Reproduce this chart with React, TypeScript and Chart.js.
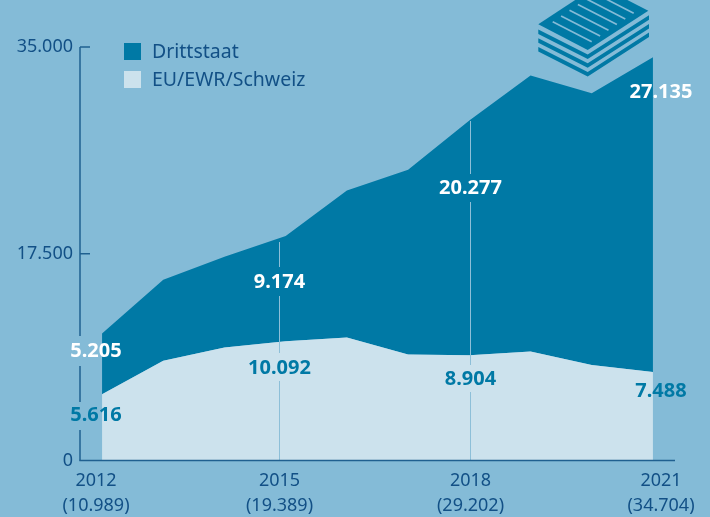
import React, { useEffect, useRef } from "react";
import { Chart, registerables } from "chart.js";

Chart.register(...registerables);

const years = [2012, 2013, 2014, 2015, 2016, 2017, 2018, 2019, 2020, 2021];
const euEwrSchweiz = [5616, 8436, 9570, 10092, 10410, 8977, 8904, 9230, 8073, 7488];
const drittstaat = [5134, 6864, 7675, 8908, 12450, 15623, 19876, 23350, 23017, 26642];
const labelYears = [2012, 2015, 2018, 2021];
const labelTotals = ["(10.989)", "(19.389)", "(29.202)", "(34.704)"];
const labelDrittstaat = ["5.205", "9.174", "20.277", "27.135"];
const labelEu = ["5.616", "10.092", "8.904", "7.488"];

const BG = "#84BBD7";
const DARK = "#0079A5";
const LIGHT = "#CCE2ED";
const AXIS = "#1F6090";
const TEXT = "#125086";
const DROP = "#8DBFD8";
const FONT = '"Noto Sans", sans-serif';

const labelX = [96, 279.5, 470.5, 661];
const labelDrittY = [351, 282, 188, 92];
const labelEuY = [415, 368, 379.5, 391];

const iconPlugin = {
  id: "decor",
  beforeDraw(chart: any) {
    const { ctx, width, height } = chart;
    ctx.save();
    ctx.fillStyle = BG;
    ctx.fillRect(0, 0, width, height);
    ctx.restore();
  },
  afterDraw(chart: any) {
    const { ctx, scales } = chart;
    const x = scales.x;
    const y = scales.y;
    const y0 = y.getPixelForValue(0);
    const yTop = y.getPixelForValue(35000);
    ctx.save();

    // vertical drop lines, broken around the value labels
    ctx.strokeStyle = DROP;
    ctx.lineWidth = 1;
    const seg = (px: number, a: number, b: number) => {
      ctx.beginPath();
      ctx.moveTo(px, a);
      ctx.lineTo(px, b);
      ctx.stroke();
    };
    seg(279.5, 242, 267);
    seg(279.5, 296, 353);
    seg(279.5, 381, y0);
    seg(470.5, 121, 174);
    seg(470.5, 202, 365);
    seg(470.5, 392, y0);

    // axes
    ctx.strokeStyle = AXIS;
    ctx.lineWidth = 1.5;
    const left = x.left;
    const axisSeg = (a: number, b: number) => {
      ctx.beginPath();
      ctx.moveTo(left, a);
      ctx.lineTo(left, b);
      ctx.stroke();
    };
    axisSeg(yTop, 336);
    axisSeg(366, 402);
    axisSeg(430, y0);
    ctx.beginPath();
    ctx.moveTo(left - 0.7, y0);
    ctx.lineTo(x.right, y0);
    ctx.stroke();
    [35000, 17500].forEach((v) => {
      const p = y.getPixelForValue(v);
      ctx.beginPath();
      ctx.moveTo(left, p);
      ctx.lineTo(left + 10, p);
      ctx.stroke();
    });

    // year labels
    ctx.textAlign = "center";
    ctx.textBaseline = "middle";
    ctx.font = `18px ${FONT}`;
    ctx.fillStyle = TEXT;
    labelYears.forEach((yr, i) => {
      ctx.fillText(String(yr), labelX[i], 481);
      ctx.fillText(labelTotals[i], labelX[i], 506);
    });

    // value labels
    ctx.font = `bold 20px ${FONT}`;
    labelDrittstaat.forEach((t, i) => {
      ctx.fillStyle = "#FFFFFF";
      ctx.fillText(t, labelX[i], labelDrittY[i]);
    });
    labelEu.forEach((t, i) => {
      ctx.fillStyle = DARK;
      ctx.fillText(t, labelX[i], labelEuY[i]);
    });

    // legend
    ctx.textAlign = "left";
    ctx.font = `19.5px ${FONT}`;
    const items = [chart.data.datasets[1], chart.data.datasets[0]];
    items.forEach((d: any, i: number) => {
      const top = 43 + i * 28;
      ctx.fillStyle = d.backgroundColor;
      ctx.fillRect(124, top, 17, 17);
      ctx.fillStyle = TEXT;
      ctx.fillText(d.label, 152, top + 9.5);
    });

    // paper stack icon
    ctx.fillStyle = DARK;
    const poly = (pts: number[][]) => {
      ctx.beginPath();
      pts.forEach((p, i) => (i ? ctx.lineTo(p[0], p[1]) : ctx.moveTo(p[0], p[1])));
      ctx.closePath();
      ctx.fill();
    };
    poly([[538.3, 24.3], [598, -15], [648.3, 10.7], [587.7, 50]]);
    [0, 8.7, 17.4].forEach((d) => {
      poly([
        [538.3, 29.5 + d],
        [587.7, 54.5 + d],
        [649, 15.2 + d],
        [649, 19.7 + d],
        [587.7, 59 + d],
        [538.3, 34 + d],
      ]);
    });
    ctx.strokeStyle = BG;
    ctx.lineWidth = 1.7;
    for (let i = 0; i < 6; i++) {
      ctx.beginPath();
      ctx.moveTo(552.7 + i * 8.4, 21.7 - i * 5.7);
      ctx.lineTo(591.7 + i * 8.4, 41.7 - i * 5.7);
      ctx.stroke();
    }
    ctx.restore();
  },
};

export default function App() {
  const ref = useRef<HTMLCanvasElement>(null);
  useEffect(() => {
    document.body.style.margin = "0";
    document.body.style.background = BG;
    const pts = (arr: number[]) => arr.map((v, i) => ({ x: years[i], y: v }));
    const chart = new Chart(ref.current as HTMLCanvasElement, {
      type: "line",
      data: {
        datasets: [
          {
            label: "EU/EWR/Schweiz",
            data: pts(euEwrSchweiz),
            backgroundColor: LIGHT,
            borderWidth: 0,
            pointRadius: 0,
            fill: "origin",
            tension: 0,
          },
          {
            label: "Drittstaat",
            data: pts(drittstaat),
            backgroundColor: DARK,
            borderWidth: 0,
            pointRadius: 0,
            fill: "-1",
            tension: 0,
          },
        ],
      },
      options: {
        animation: false,
        responsive: false,
        layout: { padding: { left: 0, right: 35, top: 47, bottom: 56.5 } },
        plugins: { legend: { display: false }, tooltip: { enabled: false } },
        scales: {
          x: {
            type: "linear",
            min: 2011.64,
            max: 2021.36,
            display: true,
            grid: { display: false },
            border: { display: false },
            ticks: { display: false },
            afterFit(s: any) {
              s.height = 0;
            },
          },
          y: {
            stacked: true,
            min: 0,
            max: 35000,
            afterFit(s: any) {
              s.width = 80;
            },
            grid: { display: false, drawTicks: false },
            border: { display: false },
            ticks: {
              stepSize: 17500,
              padding: 7,
              z: 1,
              color: TEXT,
              font: { family: '"Noto Sans", sans-serif', size: 18 },
              callback: (v: any) =>
                Number(v) === 0 ? "0" : Number(v).toLocaleString("de-DE"),
            },
          },
        },
      },
      plugins: [iconPlugin],
    } as any);
    return () => chart.destroy();
  }, []);
  return (
    <canvas
      ref={ref}
      width={710}
      height={517}
      style={{ display: "block", width: 710, height: 517 }}
    />
  );
}
